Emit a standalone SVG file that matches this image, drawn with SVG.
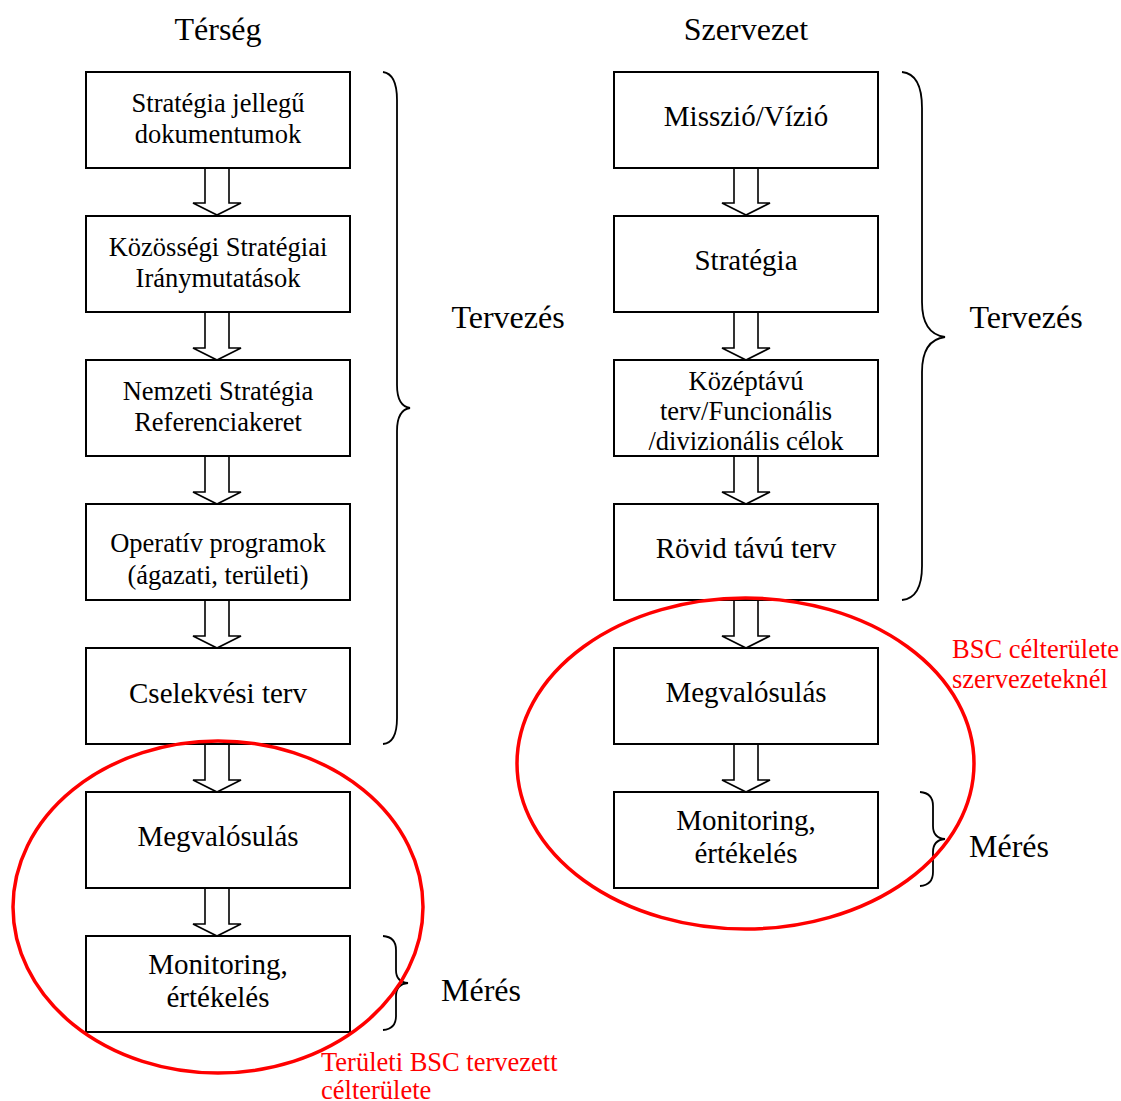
<svg xmlns="http://www.w3.org/2000/svg" width="1121" height="1101" viewBox="0 0 1121 1101">
<defs>
<style>
.box{fill:#fff;stroke:#000;stroke-width:2}
.arr{fill:#fff;stroke:#000;stroke-width:1.6;stroke-linejoin:miter}
.br{fill:none;stroke:#000;stroke-width:1.8}
.t{font-family:"Liberation Serif","Times New Roman",serif;fill:#000;text-anchor:middle}
.s22{font-size:26.5px}
.s25{font-size:29px}
.s28{font-size:32px}
.red{font-family:"Liberation Serif","Times New Roman",serif;fill:#ff0000;font-size:26.5px}
.ell{fill:none;stroke:#ff0000;stroke-width:3.5}
</style>
</defs>
<rect width="1121" height="1101" fill="#fff"/>
<text class="t s28" x="218" y="40">Térség</text>
<text class="t s28" x="746" y="40">Szervezet</text>

<g id="connectors">
<path class="arr" d="M205,168 V203 H193 L217,215 L241,203 H229 V168 Z"/>
<path class="arr" d="M205,312 V348 H193 L217,360 L241,348 H229 V312 Z"/>
<path class="arr" d="M205,456 V492 H193 L217,504 L241,492 H229 V456 Z"/>
<path class="arr" d="M205,600 V636 H193 L217,648 L241,636 H229 V600 Z"/>
<path class="arr" d="M205,744 V780 H193 L217,792 L241,780 H229 V744 Z"/>
<path class="arr" d="M205,888 V924 H193 L217,936 L241,924 H229 V888 Z"/>
<path class="arr" d="M734,168 V203 H722 L746,215 L770,203 H758 V168 Z"/>
<path class="arr" d="M734,312 V348 H722 L746,360 L770,348 H758 V312 Z"/>
<path class="arr" d="M734,456 V492 H722 L746,504 L770,492 H758 V456 Z"/>
<path class="arr" d="M734,600 V636 H722 L746,648 L770,636 H758 V600 Z"/>
<path class="arr" d="M734,744 V780 H722 L746,792 L770,780 H758 V744 Z"/>
</g>

<g id="n1"><rect class="box" x="86" y="72" width="264" height="96"/>
<text class="t s22" x="218" y="112">Stratégia jellegű</text>
<text class="t s22" x="218" y="143">dokumentumok</text></g>
<g id="n2"><rect class="box" x="86" y="216" width="264" height="96"/>
<text class="t s22" x="218" y="256">Közösségi Stratégiai</text>
<text class="t s22" x="218" y="287">Iránymutatások</text></g>
<g id="n3"><rect class="box" x="86" y="360" width="264" height="96"/>
<text class="t s22" x="218" y="400">Nemzeti Stratégia</text>
<text class="t s22" x="218" y="431">Referenciakeret</text></g>
<g id="n4"><rect class="box" x="86" y="504" width="264" height="96"/>
<text class="t s22" x="218" y="552">Operatív programok</text>
<text class="t s22" x="218" y="584">(ágazati, területi)</text></g>
<g id="n5"><rect class="box" x="86" y="648" width="264" height="96"/>
<text class="t s25" x="218" y="703">Cselekvési terv</text></g>
<g id="n6"><rect class="box" x="86" y="792" width="264" height="96"/>
<text class="t s25" x="218" y="846">Megvalósulás</text></g>
<g id="n7"><rect class="box" x="86" y="936" width="264" height="96"/>
<text class="t s25" x="218" y="974">Monitoring,</text>
<text class="t s25" x="218" y="1007">értékelés</text></g>

<g id="m1"><rect class="box" x="614" y="72" width="264" height="96"/>
<text class="t s25" x="746" y="126">Misszió/Vízió</text></g>
<g id="m2"><rect class="box" x="614" y="216" width="264" height="96"/>
<text class="t s25" x="746" y="270">Stratégia</text></g>
<g id="m3"><rect class="box" x="614" y="360" width="264" height="96"/>
<text class="t s22" x="746" y="390">Középtávú</text>
<text class="t s22" x="746" y="420">terv/Funcionális</text>
<text class="t s22" x="746" y="450">/divizionális célok</text></g>
<g id="m4"><rect class="box" x="614" y="504" width="264" height="96"/>
<text class="t s25" x="746" y="558">Rövid távú terv</text></g>
<g id="m5"><rect class="box" x="614" y="648" width="264" height="96"/>
<text class="t s25" x="746" y="702">Megvalósulás</text></g>
<g id="m6"><rect class="box" x="614" y="792" width="264" height="96"/>
<text class="t s25" x="746" y="830">Monitoring,</text>
<text class="t s25" x="746" y="863">értékelés</text></g>

<g id="braces">
<path class="br" d="M383,72 Q397,74 397,100 V385 Q397,406 410,408 Q397,410 397,431 V718 Q397,743 383,744"/>
<path class="br" d="M902,72 Q922,74 922,108 V302 Q922,334 945,337 Q922,340 922,372 V566 Q922,598 902,600"/>
<path class="br" d="M383,936 Q396,937 396,950 V970 Q396,982 408,983 Q396,984 396,996 V1016 Q396,1029 383,1030"/>
<path class="br" d="M920,792 Q933,793 933,806 V826 Q933,838 945,839 Q933,840 933,852 V872 Q933,885 920,886"/>
</g>
<text class="t s28" x="508" y="328">Tervezés</text>
<text class="t s28" x="1026" y="328">Tervezés</text>
<text class="t s28" x="481" y="1001">Mérés</text>
<text class="t s28" x="1009" y="857">Mérés</text>

<g id="bsc">
<ellipse class="ell" cx="218" cy="907" rx="205" ry="166"/>
<ellipse class="ell" cx="745.5" cy="763.5" rx="228.5" ry="165.5"/>
<text class="red" x="952" y="658">BSC célterülete</text>
<text class="red" x="952" y="688">szervezeteknél</text>
<text class="red" x="321" y="1071">Területi BSC tervezett</text>
<text class="red" x="321" y="1099">célterülete</text>
</g>
</svg>
